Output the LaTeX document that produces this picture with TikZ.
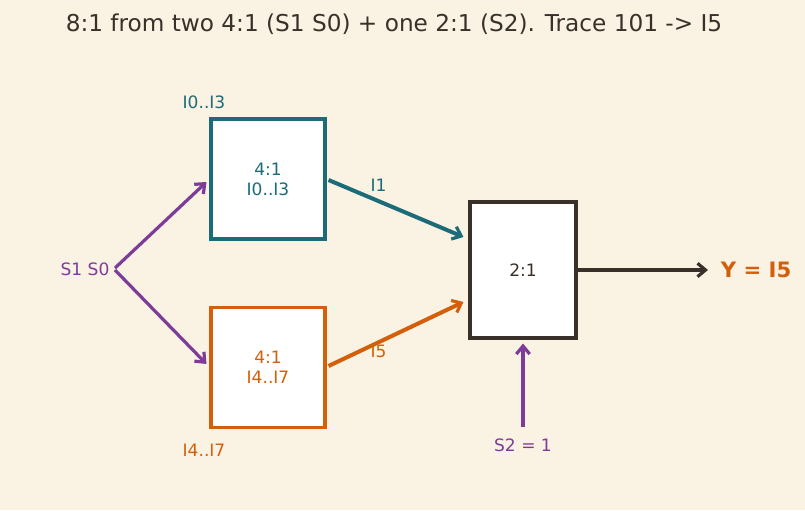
\documentclass[tikz,border=0pt]{standalone}
\usepackage{fontspec}
\setmainfont{DejaVu Sans}
\usetikzlibrary{arrows.meta,calc}
\definecolor{bgcream}{HTML}{FAF2E3}
\definecolor{teal}{HTML}{1B6B78}
\definecolor{rust}{HTML}{D35F0B}
\definecolor{ink}{HTML}{3A302A}
\definecolor{plum}{HTML}{7D3C98}
\tikzset{every picture/.style={line width=0.5pt}}

\begin{document}
\begin{tikzpicture}[x=0.75pt,y=-0.75pt,
  muxbox/.style={draw,line width=2.3pt,fill=white,inner sep=0pt,align=center,font=\fontsize{12.8}{15}\selectfont},
  lbl/.style={font=\fontsize{12.8}{15}\selectfont},
  wire/.style={line width=3pt,-{Straight Barb[length=6pt,width=10pt,line width=2.4pt]}}]
\fill[bgcream] (0,0) rectangle (805,510);
\useasboundingbox (0,0) rectangle (805,510);
\node[ink,font=\fontsize{17.4}{20}\selectfont] (title) at (394,24) {8:1 from two 4:1 (S1 S0) + one 2:1 (S2). Trace 101 -> I5};
% the three muxes
\node[muxbox,draw=teal,text=teal,minimum width=85.5pt,minimum height=90pt] (muxA) at (268,179) {4:1\\I0..I3};
\node[muxbox,draw=rust,text=rust,minimum width=85.5pt,minimum height=90.5pt] (muxB) at (268,367.5) {4:1\\I4..I7};
\node[muxbox,draw=ink,text=ink,minimum width=79.5pt,minimum height=102pt] (muxC) at (523,270) {2:1};
\node[lbl,teal] (inA) at (204,102) {I0..I3};
\node[lbl,rust] (inB) at (204,450) {I4..I7};
% select lines
\node[lbl,plum] (sel) at (85,269) {S1 S0};
\node[lbl,plum] (sel2) at (523,445) {S2 = 1};
\coordinate (selA) at (115,268);
\coordinate (selB) at (115,270);
\draw[wire,plum,line width=2.4pt] (selA) -- ($(muxA.west)+(-3,3)$);
\draw[wire,plum,line width=2.4pt] (selB) -- ($(muxB.west)+(-3,-3.5)$);
\draw[wire,plum,line width=2.4pt] ($(muxC.south)+(0,87)$) -- ($(muxC.south)+(0,4)$);
% data paths
\draw[wire,teal] ($(muxA.east)+(2,1)$) -- ($(muxC.west)+(-5,-33)$) node[lbl,teal,pos=0.37,above=2pt] (lI1) {I1};
\draw[wire,rust] ($(muxB.east)+(2,-1.5)$) -- ($(muxC.west)+(-5,32)$) node[lbl,rust,pos=0.37,below=-3pt] (lI5) {I5};
\node[rust,font=\fontsize{15.9}{18}\bfseries,anchor=west] (out) at (716,270) {Y = I5};
\draw[wire,ink,line width=3.4pt] (muxC.east) -- ($(out.west)+(-8,0)$);
\end{tikzpicture}
\end{document}
